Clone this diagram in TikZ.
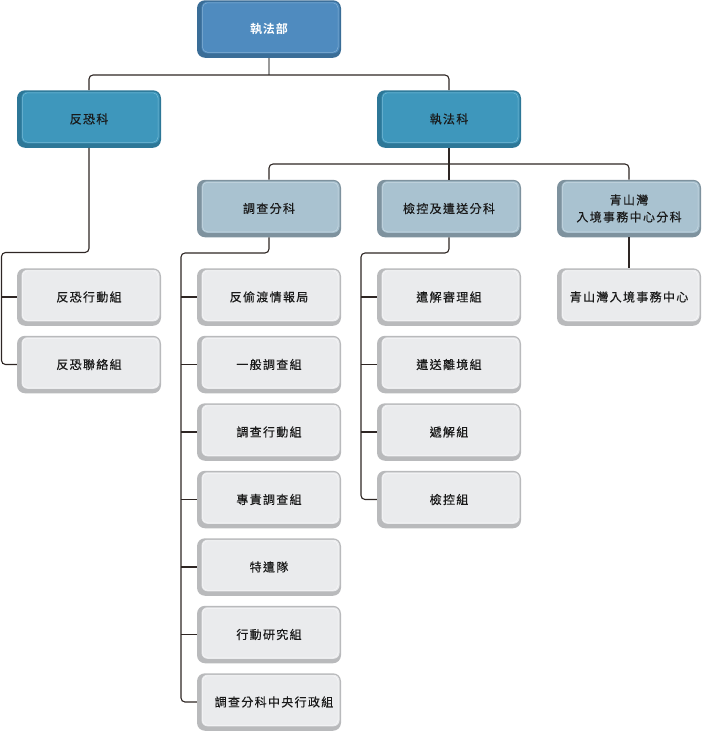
\documentclass[tikz,border=0pt]{standalone}
\usepackage{fontspec}
\newfontfamily\cjk{Noto Sans CJK TC}[LetterSpace=11, FakeBold=0.3]
\newfontfamily\cjkbold{Noto Sans CJK TC Bold}[LetterSpace=8]
\definecolor{deptfill}{HTML}{4F8BBF}
\definecolor{deptedge}{HTML}{3A6D97}
\definecolor{depthl}{HTML}{86B0D4}
\definecolor{sectfill}{HTML}{3E97BC}
\definecolor{sectedge}{HTML}{2D7797}
\definecolor{secthl}{HTML}{78BAD5}
\definecolor{subfill}{HTML}{A9C2D0}
\definecolor{subedge}{HTML}{7E929E}
\definecolor{subhl}{HTML}{C9D9E2}
\definecolor{teamfill}{HTML}{EAEBED}
\definecolor{teamedge}{HTML}{B9BABC}
\definecolor{teamhl}{HTML}{F7F7F8}
\definecolor{linkgray}{HTML}{2E2624}
\definecolor{stemgray}{HTML}{9A9A9A}
\begin{document}
\begin{tikzpicture}[
                                x = 1pt,
                                y = -1pt,
                                node distance = 67.5pt,
                                unit/.style n args = {3}{
                                        fill = #1,
                                        rounded corners = 8pt,
                                        minimum width = 144pt,
                                        minimum height = 57.5pt,
                                        align = center,
                                        text = black!90,
                                        font = \cjk\fontsize{12}{17}\selectfont,
                                        path picture = {
                                                \fill[#2, rounded corners = 6pt]
                                                        ([shift = {(4.5pt,4.5pt)}]path picture bounding box.south west)
                                                        rectangle ([shift = {(-1.5pt,-1.5pt)}]path picture bounding box.north east);
                                                \draw[#3, line width = 0.5pt, rounded corners = 5pt]
                                                        ([shift = {(5.5pt,5.5pt)}]path picture bounding box.south west)
                                                        rectangle ([shift = {(-3pt,-2.5pt)}]path picture bounding box.north east);
                                        }
                                }
                                ]

                                \tikzstyle{dept}=[unit = {deptedge}{deptfill}{depthl}, text = white, font = \cjkbold\fontsize{12}{17}\selectfont]
                                \tikzstyle{sect}=[unit = {sectedge}{sectfill}{secthl}]
                                \tikzstyle{sub}=[unit = {subedge}{subfill}{subhl}]
                                \tikzstyle{team}=[unit = {teamedge}{teamfill}{teamhl}]
                                \tikzstyle{link}=[draw = linkgray, line width = 1.1pt, rounded corners = 4pt]

                                \useasboundingbox (0,0) rectangle (704,732);

                                \node[dept] (zfb) at (269,29) {執法部};
                                \node[sect] (fkk) at (89,119) {反恐科};
                                \node[sect] (zfk) at (449,119) {執法科};
                                \node[sub] (dc) at (269,208.5) {調查分科};
                                \node[sub] (jk) at (449,208.5) {檢控及遣送分科};
                                \node[sub] (qs) at (629,208.5) {青山灣\\入境事務中心分科};

                                \node[team] (fk1) at (89,297) {反恐行動組};
                                \node[team] (fk2) [below of=fk1] {反恐聯絡組};

                                \node[team] (dc1) at (269,297) {反偷渡情報局};
                                \node[team] (dc2) [below of=dc1] {一般調查組};
                                \node[team] (dc3) [below of=dc2] {調查行動組};
                                \node[team] (dc4) [below of=dc3] {專責調查組};
                                \node[team] (dc5) [below of=dc4] {特遣隊};
                                \node[team] (dc6) [below of=dc5] {行動研究組};
                                \node[team] (dc7) [below of=dc6] {\hspace{10pt}調查分科中央行政組};

                                \node[team] (jk1) at (449,297) {遣解審理組};
                                \node[team] (jk2) [below of=jk1] {遣送離境組};
                                \node[team] (jk3) [below of=jk2] {遞解組};
                                \node[team] (jk4) [below of=jk3] {檢控組};

                                \node[team] (qs1) at (629,297) {青山灣入境事務中心};

                                \coordinate (bus1) at (269,75);
                                \coordinate (bus2) at (449,164);
                                \coordinate (fkbus) at (1.5,252.5);
                                \coordinate (dcbus) at (181,253);
                                \coordinate (jkbus) at (361,253);

                                \draw[link, draw = stemgray] (zfb.south) -- (bus1);
                                \draw[link] (fkk.north) |- (bus1) -| (zfk.north);
                                \draw[link] (zfk.south) -- (jk.north);
                                \draw[link] (dc.north) |- (bus2) -| (qs.north);

                                \draw[link] (fkk.south) |- (fkbus) |- (fk2.west);
                                \draw[link] (fk1.west) -- (fk1.west -| fkbus);

                                \draw[link] (dc.south) |- (dcbus) |- (dc7.west);
                                \foreach \i in {1,...,6}
                                        \draw[link] (dc\i.west) -- (dc\i.west -| dcbus);

                                \draw[link] (jk.south) |- (jkbus) |- (jk4.west);
                                \foreach \i in {1,2,3}
                                        \draw[link] (jk\i.west) -- (jk\i.west -| jkbus);

                                \draw[link] (qs.south) -- (qs1.north);
\end{tikzpicture}
\end{document}
